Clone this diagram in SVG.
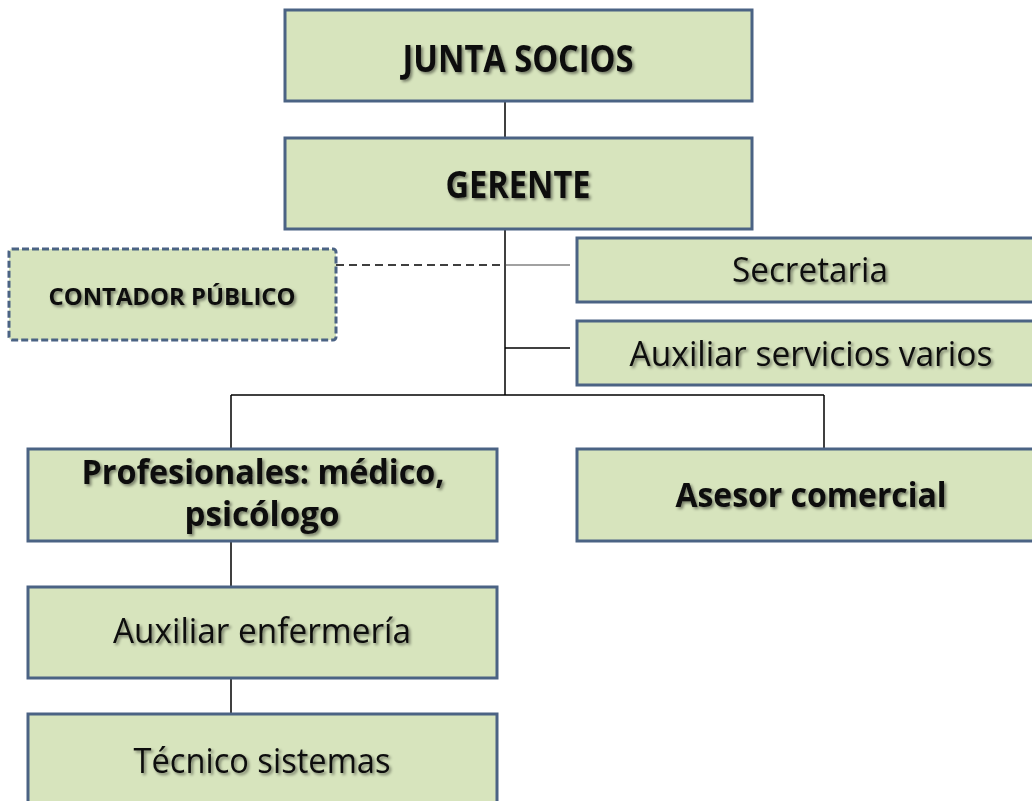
<svg xmlns="http://www.w3.org/2000/svg" width="1032" height="801" viewBox="0 0 1032 801">
  <defs>
    <filter id="ts" x="-10%" y="-30%" width="120%" height="160%">
      <feDropShadow dx="2" dy="2" stdDeviation="1.4" flood-color="#000" flood-opacity="0.45"/>
    </filter>
    <style>
      .box { fill: #d7e4bd; stroke: #4b6384; stroke-width: 3; }
      .dash { stroke-dasharray: 7 3; }
      .t { font-family: "Open Sans", "Noto Sans", "Liberation Sans", sans-serif; fill: #111; text-anchor: middle; filter: url(#ts); }
      .b { font-weight: bold; }
      .ln { stroke: #000; stroke-width: 1.5; fill: none; }
    </style>
  </defs>
  <rect width="1032" height="801" fill="#fff"/>

  <g id="connectors">
    <line class="ln" x1="505" y1="101" x2="505" y2="138"/>
    <line class="ln" x1="505" y1="229" x2="505" y2="395"/>
    <line class="ln" x1="336" y1="265" x2="505" y2="265" stroke-width="2" stroke-dasharray="8 5"/>
    <line x1="505" y1="265" x2="570" y2="265" stroke="#444" stroke-width="1.2"/>
    <line class="ln" x1="505" y1="348" x2="570" y2="348"/>
    <line class="ln" x1="231" y1="395" x2="824" y2="395"/>
    <line class="ln" x1="231" y1="395" x2="231" y2="449"/>
    <line class="ln" x1="824" y1="395" x2="824" y2="449"/>
    <line class="ln" x1="231" y1="541" x2="231" y2="587"/>
    <line class="ln" x1="231" y1="678" x2="231" y2="714"/>
  </g>

  <g id="junta">
    <rect class="box" x="285" y="10" width="467" height="91"/>
    <text class="t b" x="518" y="72" font-size="38" textLength="231" lengthAdjust="spacingAndGlyphs">JUNTA SOCIOS</text>
  </g>

  <g id="gerente">
    <rect class="box" x="285" y="138" width="467" height="91"/>
    <text class="t b" x="518" y="198" font-size="37" textLength="145" lengthAdjust="spacingAndGlyphs">GERENTE</text>
  </g>

  <g id="contador">
    <rect class="box dash" x="9" y="249" width="327" height="91" rx="3"/>
    <text class="t b" x="172" y="305" font-size="23" textLength="247" lengthAdjust="spacingAndGlyphs">CONTADOR PÚBLICO</text>
  </g>

  <g id="secretaria">
    <rect class="box" x="577" y="238" width="470" height="64"/>
    <text class="t" x="810" y="282" font-size="35" textLength="156" lengthAdjust="spacingAndGlyphs">Secretaria</text>
  </g>

  <g id="auxiliar-servicios">
    <rect class="box" x="577" y="321" width="470" height="64"/>
    <text class="t" x="811" y="366" font-size="35" textLength="363" lengthAdjust="spacingAndGlyphs">Auxiliar servicios varios</text>
  </g>

  <g id="profesionales">
    <rect class="box" x="28" y="449" width="469" height="92"/>
    <text class="t b" x="263" y="484" font-size="34" textLength="363" lengthAdjust="spacingAndGlyphs">Profesionales: médico,</text>
    <text class="t b" x="262" y="526" font-size="34" textLength="155" lengthAdjust="spacingAndGlyphs">psicólogo</text>
  </g>

  <g id="asesor">
    <rect class="box" x="577" y="449" width="470" height="92"/>
    <text class="t b" x="811" y="507" font-size="34" textLength="271" lengthAdjust="spacingAndGlyphs">Asesor comercial</text>
  </g>

  <g id="auxiliar-enfermeria">
    <rect class="box" x="28" y="587" width="469" height="91"/>
    <text class="t" x="262" y="643" font-size="35" textLength="298" lengthAdjust="spacingAndGlyphs">Auxiliar enfermería</text>
  </g>

  <g id="tecnico">
    <rect class="box" x="28" y="714" width="469" height="100"/>
    <text class="t" x="262" y="773" font-size="35" textLength="257" lengthAdjust="spacingAndGlyphs">Técnico sistemas</text>
  </g>
</svg>
